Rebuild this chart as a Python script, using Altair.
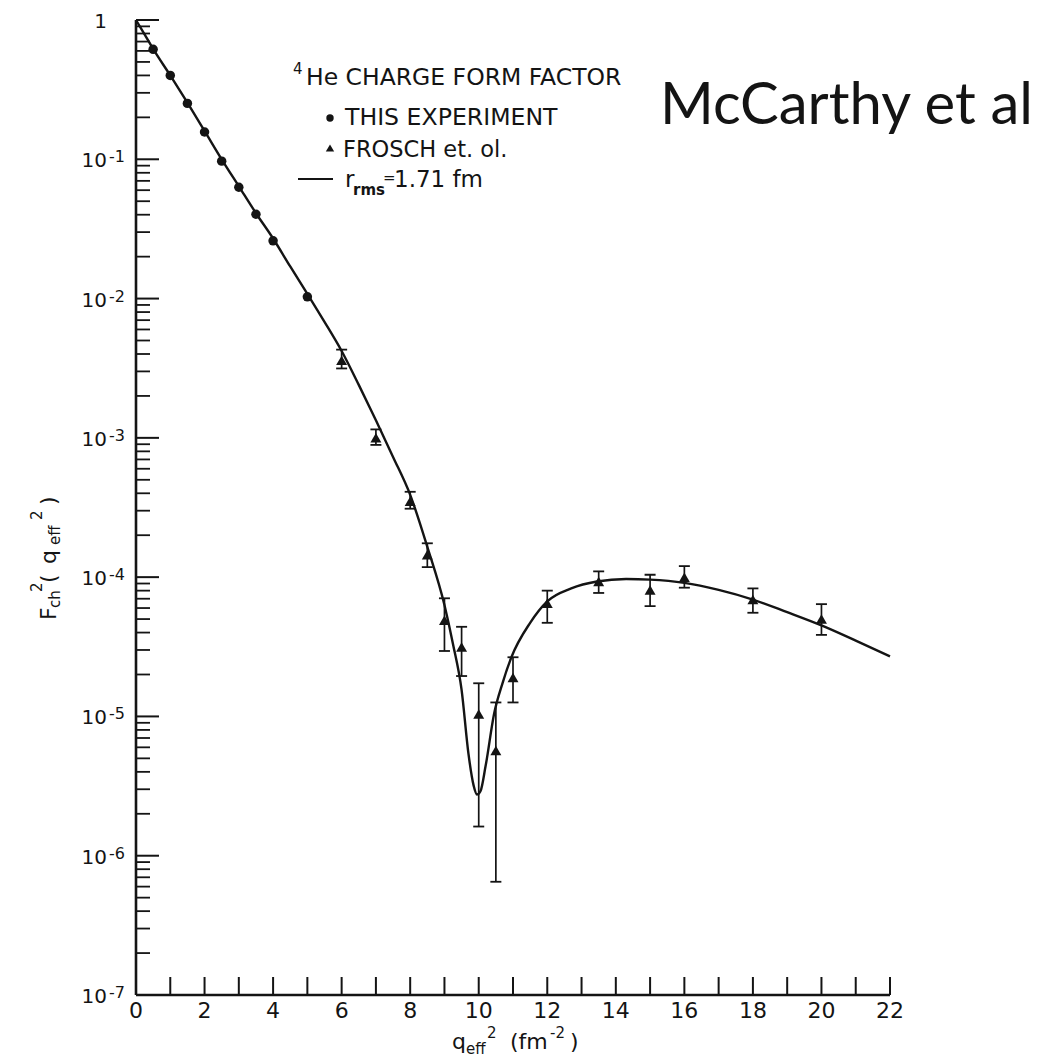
import altair as alt
import pandas as pd

# ---------------------------------------------------------------------------
# 4He charge form factor  F_ch^2 versus q_eff^2 (fm^-2)
# ---------------------------------------------------------------------------

# this experiment (filled circles)
exp_q2 = [0.5, 1.0, 1.5, 2.0, 2.5, 3.0, 3.5, 4.0, 5.0]
exp_f2 = [0.616, 0.40, 0.252, 0.157, 0.097, 0.063, 0.0403, 0.026, 0.0103]

# Frosch et al. (filled triangles with error bars)
fr_q2 = [6.0, 7.0, 8.0, 8.5, 9.0, 9.5, 10.0, 10.5, 11.0, 12.0, 13.5, 15.0, 16.0, 18.0, 20.0]
fr_f2 = [3.6e-3, 1.0e-3, 3.5e-4, 1.45e-4, 4.9e-5, 3.15e-5, 1.04e-5, 5.7e-6, 1.9e-5,
         6.5e-5, 9.3e-5, 8.1e-5, 1.0e-4, 6.9e-5, 5.0e-5]
fr_lo = [3.15e-3, 8.9e-4, 3.1e-4, 1.18e-4, 2.95e-5, 1.95e-5, 1.62e-6, 6.5e-7, 1.26e-5,
         4.7e-5, 7.7e-5, 6.2e-5, 8.4e-5, 5.55e-5, 3.85e-5]
fr_hi = [4.3e-3, 1.15e-3, 4.1e-4, 1.75e-4, 7.05e-5, 4.4e-5, 1.73e-5, 1.26e-5, 2.66e-5,
         8.0e-5, 1.1e-4, 1.04e-4, 1.2e-4, 8.3e-5, 6.4e-5]

# model curve, r_rms = 1.71 fm
fit_q2 = [0.0, 0.25, 0.5, 1.0, 1.5, 2.0, 2.5, 3.0, 3.5, 4.0, 4.5, 5.0, 5.5, 6.0, 6.5,
          7.0, 7.5, 8.0, 8.5, 9.0, 9.25, 9.5, 9.7, 9.85, 9.95, 10.05, 10.2, 10.45,
          10.7, 10.95, 11.5, 12.0, 12.7, 13.45, 14.3, 15.0, 16.0, 17.0, 18.0, 19.0,
          20.0, 21.0, 22.0]
fit_f2 = [1.0, 0.79, 0.62, 0.40, 0.255, 0.16, 0.10, 0.064, 0.041, 0.027, 0.017,
          0.0108, 0.0068, 4.2e-3, 2.4e-3, 1.34e-3, 7.3e-4, 3.9e-4, 1.65e-4, 6.3e-5,
          3.3e-5, 1.55e-5, 5.4e-6, 3.2e-6, 2.75e-6, 2.9e-6, 4.4e-6, 1.05e-5, 1.75e-5,
          2.65e-5, 4.7e-5, 6.7e-5, 8.3e-5, 9.3e-5, 9.7e-5, 9.6e-5, 9.1e-5, 8.1e-5,
          6.9e-5, 5.6e-5, 4.5e-5, 3.5e-5, 2.7e-5]

# axis ticks and labels
y_decades = [1, 1e-1, 1e-2, 1e-3, 1e-4, 1e-5, 1e-6, 1e-7]
y_base = ["1", "10", "10", "10", "10", "10", "10", "10"]
y_exp = ["", "-1", "-2", "-3", "-4", "-5", "-6", "-7"]
y_minor = [m * 10.0 ** k for k in range(-7, 0) for m in range(2, 10)]
x_ticks = list(range(1, 23))
x_labels = list(range(0, 23, 2))

# ---------------------------------------------------------------------------
W, H = 754, 975
INK = "#141414"
FONT = "DejaVu Sans"

xs = alt.Scale(domain=[0, 22], nice=False, zero=False)
ys = alt.Scale(type="log", domain=[1e-7, 1], nice=False)


def X(f):
    return alt.X(f"{f}:Q", scale=xs, axis=None)


def Y(f):
    return alt.Y(f"{f}:Q", scale=ys, axis=None)


one = pd.DataFrame({"k": [0]})


def note(text, x, y, size, angle=0, font=FONT, weight="normal"):
    return alt.Chart(one).mark_text(
        text=text, font=font, fontSize=size, fontWeight=weight, align="left",
        baseline="alphabetic", angle=angle, color=INK,
    ).encode(x=alt.value(x), y=alt.value(y))


exp_df = pd.DataFrame({"q2": exp_q2, "f2": exp_f2})
fr_df = pd.DataFrame({"q2": fr_q2, "f2": fr_f2, "lo": fr_lo, "hi": fr_hi})
fit_df = pd.DataFrame({"q2": fit_q2, "f2": fit_f2})
ymaj_df = pd.DataFrame({"v": y_decades, "base": y_base, "exp": y_exp})
ymin_df = pd.DataFrame({"v": y_minor})
xt_df = pd.DataFrame({"v": x_ticks})
xl_df = pd.DataFrame({"v": x_labels, "t": [str(v) for v in x_labels]})

# axis frame
y_line = alt.Chart(one).mark_rule(color=INK, strokeWidth=2.6).encode(
    x=alt.value(0), y=alt.value(0), y2=alt.value(H))
x_line = alt.Chart(one).mark_rule(color=INK, strokeWidth=2.6).encode(
    x=alt.value(0), x2=alt.value(W), y=alt.value(H))

# inward ticks
y_major = alt.Chart(ymaj_df).mark_rule(color=INK, strokeWidth=2).encode(
    y=Y("v"), x=alt.value(0), x2=alt.value(23))
y_min = alt.Chart(ymin_df).mark_rule(color=INK, strokeWidth=1.8).encode(
    y=Y("v"), x=alt.value(0), x2=alt.value(14))
x_tk = alt.Chart(xt_df).mark_rule(color=INK, strokeWidth=2).encode(
    x=X("v"), y=alt.value(H), y2=alt.value(H - 18))

# tick labels
y_lab = alt.Chart(ymaj_df).mark_text(
    align="right", baseline="middle", font=FONT, fontSize=20, dy=2, color=INK
).encode(y=Y("v"), x=alt.value(-29), text="base:N")
y_lab_exp = alt.Chart(ymaj_df).mark_text(
    align="left", baseline="middle", font=FONT, fontSize=16, dy=-2, color=INK
).encode(y=Y("v"), x=alt.value(-27), text="exp:N")
x_lab = alt.Chart(xl_df).mark_text(
    baseline="middle", font=FONT, fontSize=22, color=INK
).encode(x=X("v"), y=alt.value(H + 16), text="t:N")

# data
fit = alt.Chart(fit_df).mark_line(
    color=INK, strokeWidth=2.4, interpolate="monotone"
).encode(x=X("q2"), y=Y("f2"))
err = alt.Chart(fr_df).mark_rule(color=INK, strokeWidth=1.7).encode(
    x=X("q2"), y=Y("lo"), y2="hi:Q")
cap_lo = alt.Chart(fr_df).mark_tick(
    color=INK, orient="horizontal", size=11, thickness=1.8, opacity=1
).encode(x=X("q2"), y=Y("lo"))
cap_hi = alt.Chart(fr_df).mark_tick(
    color=INK, orient="horizontal", size=11, thickness=1.8, opacity=1
).encode(x=X("q2"), y=Y("hi"))
exp_pts = alt.Chart(exp_df).mark_point(
    shape="circle", filled=True, size=90, color=INK, opacity=1
).encode(x=X("q2"), y=Y("f2"))
fr_pts = alt.Chart(fr_df).mark_point(
    shape="triangle-up", filled=True, size=120, color=INK, opacity=1
).encode(x=X("q2"), y=Y("f2"))

# key
key = [
    note("4", 157, 54, 15),
    note("He CHARGE FORM FACTOR", 170, 65, 23.5),
    alt.Chart(one).mark_point(shape="circle", filled=True, size=55, color=INK, opacity=1)
    .encode(x=alt.value(194), y=alt.value(98)),
    note("THIS EXPERIMENT", 209, 105, 23.6),
    alt.Chart(one).mark_point(shape="triangle-up", filled=True, size=70, color=INK, opacity=1)
    .encode(x=alt.value(194), y=alt.value(128)),
    note("FROSCH et. ol.", 207, 137, 22.5),
    alt.Chart(one).mark_rule(color=INK, strokeWidth=2).encode(
        x=alt.value(162), x2=alt.value(197), y=alt.value(159)),
    note("r", 209, 167, 23),
    note("rms", 217, 175, 15, weight="bold"),
    note("=", 247, 163, 15),
    note("1.71 fm", 258, 167, 23),
    note("McCarthy et al", 524, 104, 58, font="Lato"),
]

# axis titles
x_title = [
    note("q", 316, 1029, 22),
    note("eff", 330, 1034, 15),
    note("2", 351, 1018, 15),
    note("(fm", 374, 1029, 22),
    note("-2", 414, 1018, 15),
    note(")", 434, 1029, 22),
]
y_title = [
    note("F", -80, 620 - 20, 22, angle=270),
    note("ch", -76, 608 - 20, 15, angle=270),
    note("2", -94, 592 - 20, 15, angle=270),
    note("(", -80, 583 - 20, 22, angle=270),
    note("q", -80, 564 - 20, 22, angle=270),
    note("eff", -76, 545 - 20, 15, angle=270),
    note("2", -94, 520 - 20, 15, angle=270),
    note(")", -80, 505 - 20, 22, angle=270),
]

chart = alt.layer(
    y_min, y_major, x_tk, y_line, x_line, y_lab, y_lab_exp, x_lab,
    fit, err, cap_lo, cap_hi, exp_pts, fr_pts,
    *key, *x_title, *y_title,
).properties(
    width=W, height=H,
    padding={"left": 136, "top": 20, "right": 169, "bottom": 63},
    autosize=alt.AutoSizeParams(type="none"),
    background="white",
).configure_view(strokeWidth=0)

chart.save("out.html", embed_options={"renderer": "svg", "actions": False})
